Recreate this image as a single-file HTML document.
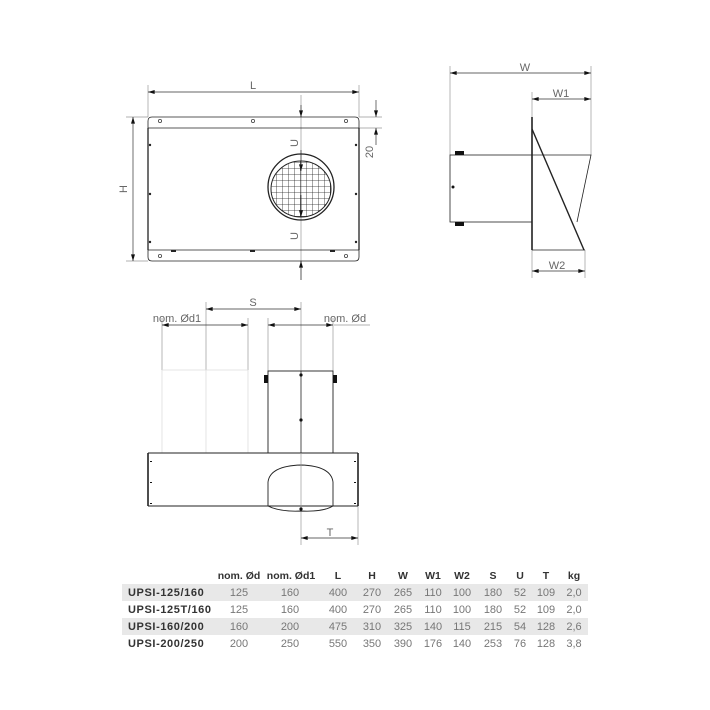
<!DOCTYPE html>
<html><head><style>
body{margin:0;background:#fff}
svg{display:block}
text{font-family:"Liberation Sans",sans-serif}
</style></head><body>
<svg width="710" height="710" viewBox="0 0 710 710" xmlns="http://www.w3.org/2000/svg">
<defs>
<marker id="a" viewBox="0 0 10 6" refX="10" refY="3" markerWidth="10" markerHeight="4" orient="auto-start-reverse" markerUnits="userSpaceOnUse"><path d="M0,0L10,3L0,6z" fill="#111"/></marker>
<pattern id="g" width="6" height="6" patternUnits="userSpaceOnUse" x="0" y="0"><path d="M0,0H6M0,0V6" stroke="#222" stroke-width="0.8" fill="none"/></pattern>
</defs>
<g stroke="#999" stroke-width="0.7" fill="none">
<line x1="148" y1="85" x2="148" y2="117"/><line x1="359" y1="85" x2="359" y2="117"/>
<line x1="126" y1="117" x2="148" y2="117"/><line x1="126" y1="261" x2="148" y2="261"/>
<line x1="359" y1="117" x2="382" y2="117"/><line x1="359" y1="128" x2="382" y2="128"/>
<line x1="301" y1="95" x2="301" y2="280"/>
<line x1="450" y1="66" x2="450" y2="155"/><line x1="591" y1="66" x2="591" y2="155"/>
<line x1="532" y1="92" x2="532" y2="117"/>
<line x1="532" y1="250" x2="532" y2="278"/><line x1="585" y1="250" x2="585" y2="278"/>
<line x1="206" y1="302" x2="206" y2="370"/><line x1="301" y1="302" x2="301" y2="371"/>
<line x1="162" y1="318" x2="162" y2="370"/><line x1="248" y1="318" x2="248" y2="370"/>
<line x1="268" y1="318" x2="268" y2="371"/><line x1="333" y1="318" x2="333" y2="371"/>
<line x1="334" y1="325" x2="370" y2="325"/>
<line x1="301" y1="506" x2="301" y2="545"/><line x1="358" y1="506" x2="358" y2="545"/>
</g>
<g stroke="#ddd" stroke-width="0.8" fill="none">
<line x1="162" y1="370" x2="162" y2="453"/><line x1="206" y1="370" x2="206" y2="453"/><line x1="248" y1="370" x2="248" y2="453"/>
<line x1="162" y1="370" x2="248" y2="370"/>
</g>
<g stroke="#333" stroke-width="0.7" fill="none" marker-start="url(#a)" marker-end="url(#a)">
<line x1="148" y1="92" x2="359" y2="92"/>
<line x1="133" y1="117" x2="133" y2="261"/>
<line x1="450" y1="73" x2="591" y2="73"/>
<line x1="532" y1="99" x2="591" y2="99"/>
<line x1="532" y1="271" x2="585" y2="271"/>
<line x1="206" y1="309" x2="301" y2="309"/>
<line x1="162" y1="325" x2="248" y2="325"/>
<line x1="268" y1="325" x2="333" y2="325"/>
<line x1="301" y1="538" x2="358" y2="538"/>
</g>
<g stroke="#333" stroke-width="0.7" fill="none" marker-end="url(#a)">
<line x1="376" y1="100" x2="376" y2="117"/><line x1="376" y1="145" x2="376" y2="128"/>
<line x1="301" y1="105" x2="301" y2="117"/><line x1="301" y1="280" x2="301" y2="261"/>
<line x1="301" y1="150" x2="301" y2="171"/>
<line x1="301" y1="195" x2="301" y2="217"/>
</g>
<g stroke="#222" stroke-width="1" fill="none">
<path d="M152,117H355Q359,117 359,121V128H148V121Q148,117 152,117Z" stroke-width="0.8"/>
<path d="M148,250H359V257Q359,261 355,261H152Q148,261 148,257Z" stroke-width="0.8"/>
<line x1="148" y1="128" x2="148" y2="250" stroke-width="1.3"/><line x1="359" y1="128" x2="359" y2="250" stroke-width="1.3"/>
<circle cx="301" cy="187" r="33" stroke-width="1.3"/>
<ellipse cx="301" cy="189" rx="30" ry="28" fill="url(#g)" stroke-width="1"/>
</g>
<g fill="none" stroke="#444" stroke-width="0.8">
<circle cx="160" cy="121" r="1.6"/><circle cx="253" cy="121" r="1.6"/><circle cx="346" cy="121" r="1.6"/>
<circle cx="160" cy="256" r="1.6"/><circle cx="346" cy="256" r="1.6"/>
</g>
<g fill="#222">
<circle cx="150" cy="145" r="1.2"/><circle cx="150" cy="194" r="1.2"/><circle cx="150" cy="242" r="1.2"/>
<circle cx="356" cy="145" r="1.2"/><circle cx="356" cy="194" r="1.2"/><circle cx="356" cy="242" r="1.2"/>
<rect x="171" y="250" width="5" height="2"/><rect x="250" y="250" width="5" height="2"/><rect x="330" y="250" width="5" height="2"/>
</g>
<g stroke="#222" fill="none">
<rect x="450" y="155" width="82" height="67" stroke-width="0.8"/>
<line x1="532" y1="117" x2="532" y2="250" stroke-width="1.6"/>
<line x1="532" y1="129" x2="584" y2="250" stroke-width="1.4"/>
<path d="M532,155H591L577,222" stroke-width="0.8"/>
<line x1="532" y1="250" x2="585" y2="250" stroke-width="0.8"/>
</g>
<g fill="#111"><rect x="455" y="151" width="9" height="4"/><rect x="455" y="222" width="9" height="4"/><circle cx="453" cy="187" r="1.5"/></g>
<g stroke="#222" fill="none">
<rect x="268" y="371" width="65" height="82" stroke-width="0.9"/>
<line x1="148" y1="453" x2="358" y2="453" stroke-width="1"/>
<line x1="148" y1="506" x2="358" y2="506" stroke-width="1"/>
<line x1="148" y1="453" x2="148" y2="506" stroke-width="1.6"/><line x1="358" y1="453" x2="358" y2="506" stroke-width="1.6"/>
<path d="M268,482Q270,466 301,465Q331,466 333,482" stroke-width="0.9"/>
<path d="M268,482V506Q280,512 301,511Q323,512 333,506V482" stroke-width="0.9"/>
<line x1="301" y1="371" x2="301" y2="453" stroke-width="0.8"/>
<line x1="301" y1="453" x2="301" y2="510" stroke="#999" stroke-width="0.7"/>
</g>
<g fill="#111">
<rect x="264" y="375" width="4" height="8"/><rect x="333" y="375" width="4" height="8"/>
<circle cx="301" cy="375" r="1.6"/><circle cx="301" cy="420" r="1.6"/><circle cx="301" cy="509" r="1.6"/>
<rect x="150" y="461" width="2" height="1"/><rect x="150" y="482" width="2" height="1"/><rect x="150" y="503" width="2" height="1"/>
<rect x="354" y="461" width="2" height="1"/><rect x="354" y="482" width="2" height="1"/><rect x="354" y="503" width="2" height="1"/>
</g>
<g fill="#666" font-size="11">
<text x="253" y="89" text-anchor="middle">L</text>
<text x="127" y="189" text-anchor="middle" transform="rotate(-90 127 189)">H</text>
<text x="373" y="152" text-anchor="middle" transform="rotate(-90 373 152)">20</text>
<text x="298" y="143" text-anchor="middle" transform="rotate(-90 298 143)">U</text>
<text x="298" y="236" text-anchor="middle" transform="rotate(-90 298 236)">U</text>
<text x="525" y="71" text-anchor="middle">W</text>
<text x="561" y="97" text-anchor="middle">W1</text>
<text x="557" y="269" text-anchor="middle">W2</text>
<text x="253" y="306" text-anchor="middle">S</text>
<text x="177" y="322" text-anchor="middle">nom. Ød1</text>
<text x="345" y="322" text-anchor="middle">nom. Ød</text>
<text x="330" y="536" text-anchor="middle">T</text>
</g>
<rect x="122" y="584" width="466" height="17" fill="#e8e8e8"/>
<rect x="122" y="618" width="466" height="17" fill="#e8e8e8"/>
<g font-size="11">
<g font-weight="bold" fill="#333" text-anchor="middle" font-size="10.5">
<text x="239" y="579">nom. Ød</text><text x="291" y="579">nom. Ød1</text><text x="338" y="579">L</text><text x="372" y="579">H</text><text x="403" y="579">W</text><text x="433" y="579">W1</text><text x="462" y="579">W2</text><text x="493" y="579">S</text><text x="520" y="579">U</text><text x="546" y="579">T</text><text x="574" y="579">kg</text>
</g>
<g font-weight="bold" fill="#333" letter-spacing="0.6">
<text x="128" y="596">UPSI-125/160</text><text x="128" y="613">UPSI-125T/160</text><text x="128" y="630">UPSI-160/200</text><text x="128" y="647">UPSI-200/250</text>
</g>
<g fill="#777" text-anchor="middle">
<text y="596"><tspan x="239">125</tspan><tspan x="290">160</tspan><tspan x="338">400</tspan><tspan x="372">270</tspan><tspan x="403">265</tspan><tspan x="433">110</tspan><tspan x="462">100</tspan><tspan x="493">180</tspan><tspan x="520">52</tspan><tspan x="546">109</tspan><tspan x="574">2,0</tspan></text>
<text y="613"><tspan x="239">125</tspan><tspan x="290">160</tspan><tspan x="338">400</tspan><tspan x="372">270</tspan><tspan x="403">265</tspan><tspan x="433">110</tspan><tspan x="462">100</tspan><tspan x="493">180</tspan><tspan x="520">52</tspan><tspan x="546">109</tspan><tspan x="574">2,0</tspan></text>
<text y="630"><tspan x="239">160</tspan><tspan x="290">200</tspan><tspan x="338">475</tspan><tspan x="372">310</tspan><tspan x="403">325</tspan><tspan x="433">140</tspan><tspan x="462">115</tspan><tspan x="493">215</tspan><tspan x="520">54</tspan><tspan x="546">128</tspan><tspan x="574">2,6</tspan></text>
<text y="647"><tspan x="239">200</tspan><tspan x="290">250</tspan><tspan x="338">550</tspan><tspan x="372">350</tspan><tspan x="403">390</tspan><tspan x="433">176</tspan><tspan x="462">140</tspan><tspan x="493">253</tspan><tspan x="520">76</tspan><tspan x="546">128</tspan><tspan x="574">3,8</tspan></text>
</g>
</g>
</svg>
</body></html>
